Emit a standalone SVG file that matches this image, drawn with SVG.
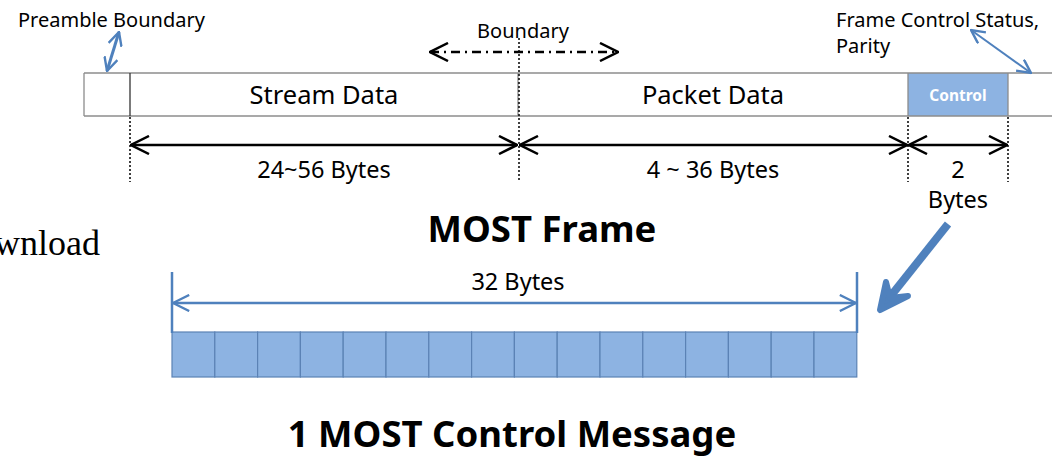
<svg xmlns="http://www.w3.org/2000/svg" width="1052" height="458" viewBox="0 0 1052 458">
  <style>
    .t { font-family: "Noto Sans", "Open Sans", sans-serif; fill: #000; }
    .cellline { stroke: #8c8c8c; stroke-width: 1.3; fill: none; }
    .dot { stroke: #000; stroke-width: 1.5; stroke-dasharray: 2 2; fill: none; }
    .dim { stroke: #000; stroke-width: 2.5; fill: none; }
    .bdim { stroke: #4F81BD; stroke-width: 2.5; fill: none; }
    .cell { fill: #8DB3E2; stroke: #5B82B5; stroke-width: 1.2; }
  </style>
  <defs>
    <marker id="openBlk" viewBox="0 0 20 20" refX="19" refY="10" markerWidth="20" markerHeight="20" markerUnits="userSpaceOnUse" orient="auto-start-reverse">
      <path d="M1,1 L19,10 L1,19" fill="none" stroke="#000" stroke-width="2.5"/>
    </marker>
    <marker id="openBlue" viewBox="0 0 20 20" refX="19" refY="10" markerWidth="18" markerHeight="18" markerUnits="userSpaceOnUse" orient="auto-start-reverse">
      <path d="M1,1 L19,10 L1,19" fill="none" stroke="#4F81BD" stroke-width="2.5"/>
    </marker>
    <marker id="openBlueS" viewBox="0 0 20 20" refX="19" refY="10" markerWidth="15" markerHeight="15" markerUnits="userSpaceOnUse" orient="auto-start-reverse">
      <path d="M1,1 L19,10 L1,19" fill="none" stroke="#4F81BD" stroke-width="3.2"/>
    </marker>
  </defs>

  <!-- cropped caption at the left edge -->
  <text x="100" y="255" font-family="'Liberation Serif', serif" font-size="36" text-anchor="end">Download</text>

  <!-- MOST frame -->
  <g id="frame">
    <rect x="908" y="73" width="100" height="43" fill="#8DB3E2"/>
    <line class="cellline" x1="84" y1="73" x2="1052" y2="73"/>
    <line class="cellline" x1="84" y1="116" x2="1052" y2="116"/>
    <line class="cellline" x1="84" y1="73" x2="84" y2="116"/>
    <line x1="130" y1="73" x2="130" y2="116" stroke="#333" stroke-width="1.3"/>
    <line class="cellline" x1="518" y1="73" x2="518" y2="116"/>
    <line class="cellline" x1="908" y1="73" x2="908" y2="116"/>
    <line class="cellline" x1="1008" y1="73" x2="1008" y2="116"/>
    <text class="t" x="324" y="104" font-size="25.5" text-anchor="middle">Stream Data</text>
    <text class="t" x="713" y="104" font-size="25.5" text-anchor="middle">Packet Data</text>
    <text class="t" x="958" y="101" font-size="15.5" font-weight="bold" text-anchor="middle" style="fill:#fff">Control</text>
  </g>

  <g id="labels">
    <text class="t" x="18" y="27" font-size="20">Preamble Boundary</text>
    <text class="t" x="523" y="38" font-size="20" text-anchor="middle">Boundary</text>
    <text class="t" x="836" y="27" font-size="20">Frame Control Status,</text>
    <text class="t" x="836" y="53" font-size="20">Parity</text>
    <text class="t" x="324" y="178" font-size="23.5" text-anchor="middle">24~56 Bytes</text>
    <text class="t" x="713" y="178" font-size="23.5" text-anchor="middle">4 ~ 36 Bytes</text>
    <text class="t" x="958" y="178" font-size="23.5" text-anchor="middle">2</text>
    <text class="t" x="958" y="208" font-size="23.5" text-anchor="middle">Bytes</text>
    <text class="t" x="542" y="242" font-size="36.5" font-weight="bold" text-anchor="middle">MOST Frame</text>
    <text class="t" x="518" y="290" font-size="23.5" text-anchor="middle">32 Bytes</text>
    <text class="t" x="512" y="447" font-size="36.5" font-weight="bold" text-anchor="middle">1 MOST Control Message</text>
  </g>

  <!-- control message bytes -->
  <g id="message">
    <rect class="cell" x="172.0" y="332" width="42.8" height="45"/>
    <rect class="cell" x="214.8" y="332" width="42.8" height="45"/>
    <rect class="cell" x="257.6" y="332" width="42.8" height="45"/>
    <rect class="cell" x="300.4" y="332" width="42.8" height="45"/>
    <rect class="cell" x="343.2" y="332" width="42.8" height="45"/>
    <rect class="cell" x="386.0" y="332" width="42.8" height="45"/>
    <rect class="cell" x="428.8" y="332" width="42.8" height="45"/>
    <rect class="cell" x="471.6" y="332" width="42.8" height="45"/>
    <rect class="cell" x="514.4" y="332" width="42.8" height="45"/>
    <rect class="cell" x="557.2" y="332" width="42.8" height="45"/>
    <rect class="cell" x="600.0" y="332" width="42.8" height="45"/>
    <rect class="cell" x="642.8" y="332" width="42.8" height="45"/>
    <rect class="cell" x="685.6" y="332" width="42.8" height="45"/>
    <rect class="cell" x="728.4" y="332" width="42.8" height="45"/>
    <rect class="cell" x="771.2" y="332" width="42.8" height="45"/>
    <rect class="cell" x="814.0" y="332" width="42.8" height="45"/>
  </g>

  <g id="connectors">
    <!-- boundary guide lines -->
    <line class="dot" x1="130" y1="117" x2="130" y2="182"/>
    <line class="dot" x1="519" y1="38" x2="519" y2="182"/>
    <line class="dot" x1="908" y1="117" x2="908" y2="182"/>
    <line class="dot" x1="1008" y1="117" x2="1008" y2="182"/>
    <!-- byte ranges -->
    <line class="dim" x1="131" y1="145" x2="517" y2="145" marker-start="url(#openBlk)" marker-end="url(#openBlk)"/>
    <line class="dim" x1="520" y1="145" x2="907" y2="145" marker-start="url(#openBlk)" marker-end="url(#openBlk)"/>
    <line class="dim" x1="909" y1="145" x2="1007" y2="145" marker-start="url(#openBlk)" marker-end="url(#openBlk)"/>
    <!-- boundary shift -->
    <line x1="430" y1="52" x2="618" y2="52" stroke="#000" stroke-width="2.5" stroke-dasharray="9 5 2 5" marker-start="url(#openBlk)" marker-end="url(#openBlk)"/>
    <!-- callouts -->
    <line x1="107" y1="71" x2="119" y2="32" stroke="#4F81BD" stroke-width="3" marker-start="url(#openBlueS)" marker-end="url(#openBlueS)"/>
    <line x1="971" y1="30" x2="1031" y2="73" stroke="#4F81BD" stroke-width="2" marker-start="url(#openBlueS)" marker-end="url(#openBlueS)"/>
    <!-- 32 byte span -->
    <line class="bdim" x1="172" y1="272" x2="172" y2="333"/>
    <line class="bdim" x1="857" y1="272" x2="857" y2="333"/>
    <line class="bdim" x1="173" y1="303" x2="856" y2="303" marker-start="url(#openBlue)" marker-end="url(#openBlue)"/>
    <!-- control field expands to a message -->
    <line x1="948" y1="224" x2="886" y2="302" stroke="#4F81BD" stroke-width="8"/>
    <path d="M880,310 L886,282 L890,298 L908,296 Z" fill="#4F81BD" stroke="#4F81BD" stroke-width="6" stroke-linejoin="round"/>
  </g>
</svg>
